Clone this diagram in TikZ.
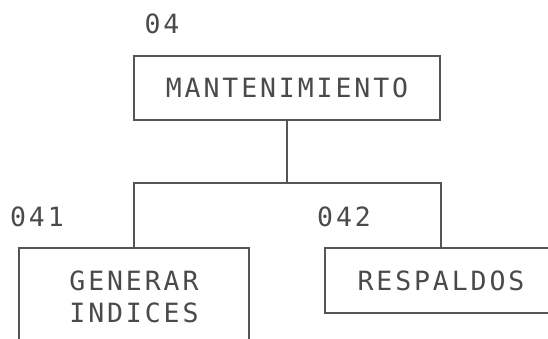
\documentclass[tikz,border=0pt]{standalone}
\usepackage{fontspec}
\newfontfamily\plotfont[LetterSpace=11]{DejaVu Sans Mono}
\definecolor{ink}{HTML}{4A4A4A}
\definecolor{linec}{HTML}{555555}
\tikzset{
  boxnode/.style={draw=linec, line width=1.3pt, rectangle, inner sep=0pt, text=ink,
    font=\plotfont\fontsize{26.5}{32}\selectfont, align=center},
  code/.style={text=ink, inner sep=0pt, font=\plotfont\fontsize{26.5}{32}\selectfont},
  conn/.style={draw=linec, line width=1.3pt}
}
\begin{document}
\begin{tikzpicture}[x=1pt,y=-1pt]
\useasboundingbox (0,0) rectangle (548,339);
\fill[white] (0,0) rectangle (548,339);
\clip (0,0) rectangle (548,339);
\node[boxnode, minimum width=306pt, minimum height=64pt] (top) at (287,88) {MANTENIMIENTO};
\node[boxnode, minimum width=230pt, minimum height=98pt] (left) at (134,297) {GENERAR\\INDICES};
\node[boxnode, minimum width=232pt, minimum height=65pt] (right) at (441,280.5) {RESPALDOS};
\node[code] (c04) at (162,24) {04};
\node[code] (c041) at (37,217) {041};
\node[code] (c042) at (344,217) {042};
\coordinate (j) at (287,183);
\draw[conn] (top.south) -- (j);
\draw[conn] (left.north) |- (j) -| (right.north);
\end{tikzpicture}
\end{document}
